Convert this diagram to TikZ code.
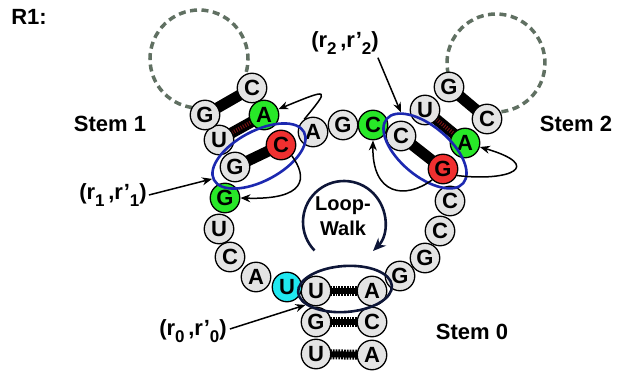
\documentclass[tikz,border=0pt]{standalone}
\usepackage{fontspec}
\setmainfont{Liberation Sans}
\usetikzlibrary{shapes.geometric,arrows.meta,backgrounds}

\definecolor{ntgray}{RGB}{228,228,228}
\definecolor{ntgreen}{RGB}{40,232,40}
\definecolor{ntred}{RGB}{240,48,48}
\definecolor{ntcyan}{RGB}{32,232,240}
\definecolor{pairblue}{RGB}{28,40,176}
\definecolor{walknavy}{RGB}{14,22,56}
\definecolor{hairpin}{RGB}{96,112,98}
\definecolor{uabar}{RGB}{120,20,20}

% subscript index used in the pair labels
\newcommand{\pairidx}[1]{\raisebox{-0.32em}{\fontsize{17}{17}\selectfont #1}}

\begin{document}
\begin{tikzpicture}[x=1pt,y=-1pt,
  nt/.style={circle, draw=black, line width=1.3pt, fill=ntgray,
    minimum size=29.5pt, inner sep=0pt, font=\fontsize{22}{22}\selectfont\bfseries},
  ntgreen/.style={nt, fill=ntgreen},
  ntred/.style={nt, fill=ntred},
  ntcyan/.style={nt, fill=ntcyan},
  lbl/.style={font=\fontsize{22}{22}\selectfont\bfseries, inner sep=0pt},
  pairbar/.style={line width=11pt, black},
  uadots/.style={line width=4pt, uabar, dash pattern=on 1pt off 1.5pt},
  combbar/.style={line width=10pt, black, dash pattern=on 1.7pt off 1.1pt},
  combcore/.style={line width=6pt, black},
  hairloop/.style={hairpin, line width=3.5pt, dash pattern=on 7pt off 4.5pt},
  pairring/.style={ellipse, draw=pairblue, line width=2.6pt, inner sep=0pt},
  walkring/.style={ellipse, draw=walknavy, line width=2.6pt, inner sep=0pt},
  pointer/.style={line width=1.5pt, -{Stealth[length=10pt,width=8pt]}},
]
\useasboundingbox (0,0) rectangle (619,374);

% ---- Stem 0 ----
\node[nt] (s0a) at (316,291) {U};
\node[nt] (s0b) at (316,322) {G};
\node[nt] (s0c) at (316,354) {U};
\node[nt] (s0d) at (372,291) {A};
\node[nt] (s0e) at (372,322) {C};
\node[nt] (s0f) at (372,355) {A};

% ---- left part of the multiloop ----
\node[ntcyan]  (l1) at (287,287) {U};
\node[nt]      (l2) at (256,277) {A};
\node[nt]      (l3) at (230,257) {C};
\node[nt]      (l4) at (219,229) {U};
\node[ntgreen] (l5) at (225,198) {G};

% ---- Stem 1 ----
\node[nt]      (a1) at (235,167) {G};
\node[nt]      (a2) at (219,140) {U};
\node[nt]      (a3) at (205,115) {G};
\node[nt]      (b3) at (252,88)  {C};
\node[ntgreen] (b2) at (264,115) {A};
\node[ntred]   (b1) at (281,145) {C};

% ---- top part of the multiloop ----
\node[nt]      (t1) at (313,132) {A};
\node[nt]      (t2) at (343,125) {G};
\node[ntgreen] (t3) at (373,125) {C};

% ---- Stem 2 ----
\node[nt]      (c1) at (401,136) {C};
\node[nt]      (c2) at (425,110) {U};
\node[nt]      (c3) at (449,87)  {G};
\node[nt]      (d3) at (487,119) {C};
\node[ntgreen] (d2) at (465,143) {A};
\node[ntred]   (d1) at (443,169) {G};

% ---- right part of the multiloop ----
\node[nt] (r1) at (450,201) {C};
\node[nt] (r2) at (440,231) {C};
\node[nt] (r3) at (425,258) {G};
\node[nt] (r4) at (400,276) {G};

% ---- hairpin loops and base-pair bars behind the bases ----
\coordinate (h1) at (199,59);
\coordinate (h2) at (496,63);
\begin{scope}[on background layer]
  \draw[hairloop] (h1) ++(28.7:49) arc[start angle=28.7, end angle=-276.1, radius=49];
  \draw[hairloop] (h2) ++(153:49) arc[start angle=153, end angle=459, radius=49];
  \foreach \p/\q in {a1/b1, a3/b3, c1/d1, c3/d3}
    \draw[pairbar] (\p.center) -- (\q.center);
  \foreach \p/\q in {a2/b2, c2/d2} {
    \draw[pairbar] (\p.center) -- (\q.center);
    \draw[uadots] (\p.center) -- (\q.center);
  }
  \foreach \p/\q in {s0a/s0d, s0b/s0e, s0c/s0f} {
    \draw[combbar] (\p.center) -- (\q.center);
    \draw[combcore] (\p.center) -- (\q.center);
  }
\end{scope}

% ---- closing pairs ----
\node[pairring, minimum width=102pt, minimum height=50pt, rotate=28]  (E1) at (259,156) {};
\node[pairring, minimum width=100pt, minimum height=50pt, rotate=-40] (E2) at (425,151) {};
\node[walkring, minimum width=94pt,  minimum height=46pt, rotate=4]   (E0) at (345,289) {};

% ---- loop walk ----
\coordinate (lw) at (344,222);
\node[font=\fontsize{20}{25}\selectfont\bfseries, align=center, inner sep=0pt]
  (walk) at (343,216) {Loop-\\Walk};
\draw[walknavy, line width=2.6pt, -{Stealth[length=13pt,width=11pt]}]
  (lw) ++(136:41) arc[start angle=136, end angle=405, radius=41];

% ---- labels ----
\node[lbl] (r1lbl) at (29,17) {R1:};
\node[lbl] (stem1) at (110,124) {Stem 1};
\node[lbl] (stem2) at (576,124) {Stem 2};
\node[lbl] (stem0) at (472,332) {Stem 0};
\node[lbl] (lab1) at (113,195) {(r\pairidx{1}\,,r'\pairidx{1})};
\node[lbl] (lab2) at (345,43)  {(r\pairidx{2}\,,r'\pairidx{2})};
\node[lbl] (lab0) at (193,331) {(r\pairidx{0}\,,r'\pairidx{0})};

% ---- pointers to the closing pairs ----
\draw[pointer] (lab1.east) ++(2,0) -- (E1.178);
\draw[pointer] (lab2.south east) ++(-1,3) -- (E2.162);
\draw[pointer] (lab0.east) ++(3,-2) -- (E0.198);

% ---- walk steps inside the stems ----
\draw[pointer] (b1.-45) .. controls (308,178) and (306,200) .. (l5.east);
\draw[pointer] (t1.125) .. controls (330,88) .. (b2.22);
\draw[pointer] (d1.-135) .. controls (405,200) and (372,195) .. (t3.south);
\draw[pointer] (d1.-25) .. controls (510,182) and (545,166) .. (d2.-15);
\end{tikzpicture}
\end{document}
